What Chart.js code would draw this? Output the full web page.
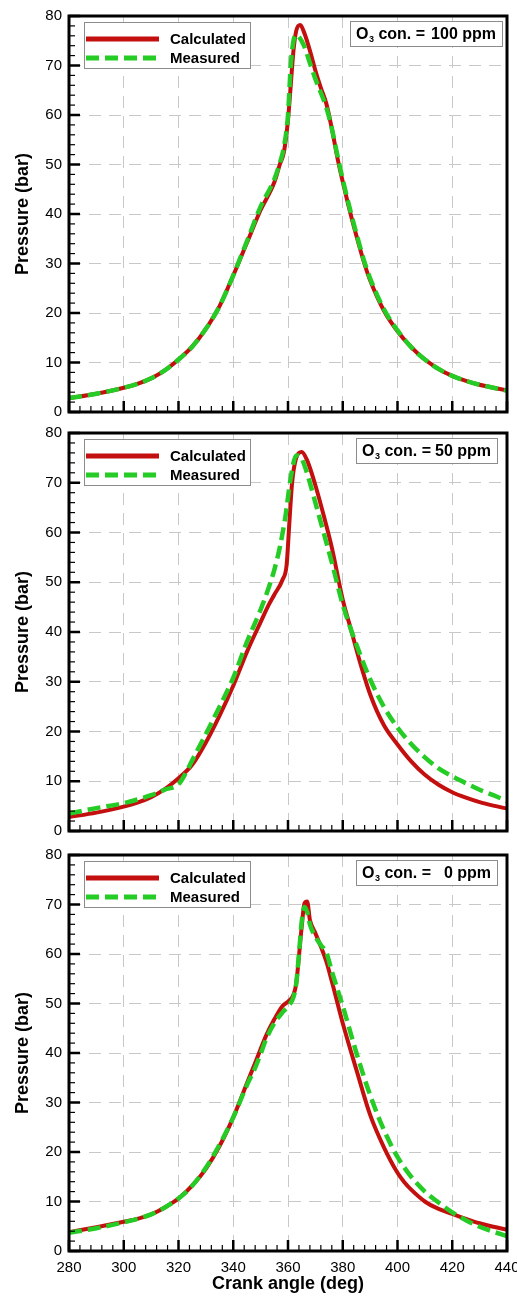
<!DOCTYPE html>
<html>
<head>
<meta charset="utf-8">
<script src="https://cdn.jsdelivr.net/npm/chart.js@4.4.1/dist/chart.umd.min.js"></script>
<style>
  html, body { margin: 0; padding: 0; background: #fff; }
  body { width: 517px; height: 1296px; position: relative; overflow: hidden; }
  .panel { position: absolute; left: 0; }
</style>
</head>
<body>
<div class="panel" style="top:0px"><canvas id="chart1" width="517" height="422"></canvas></div>
<div class="panel" style="top:417px"><canvas id="chart2" width="517" height="424"></canvas></div>
<div class="panel" style="top:839px"><canvas id="chart3" width="517" height="457"></canvas></div>
<script>
// O3 = 100 ppm
const calc100Angle = [280, 290, 300, 305, 310, 315, 320, 325, 330, 335, 340, 345, 350, 355, 357, 358.5, 360, 361, 362, 363, 364.5, 366, 368, 370, 372, 374, 376, 378, 380, 383, 386, 388, 390, 395, 400, 405, 410, 415, 420, 425, 430, 435, 440];
const calc100Pressure = [2.8, 3.7, 4.9, 5.7, 6.8, 8.4, 10.6, 13.2, 16.8, 21.4, 27.6, 34.2, 40.8, 46.4, 50, 52.5, 59, 66, 73, 77, 78.2, 76.5, 73, 69, 65.5, 62.3, 57.3, 51.5, 46.5, 39.7, 33.6, 29.8, 26.6, 20.5, 16.3, 13.1, 10.6, 8.7, 7.3, 6.3, 5.5, 4.9, 4.4];
const meas100Angle = [280, 290, 300, 305, 310, 315, 320, 325, 330, 335, 340, 345, 350, 355, 357, 358.5, 360, 361, 362, 363, 364, 366, 368, 370, 372, 374, 376, 378, 380, 383, 386, 388, 390, 395, 400, 405, 410, 415, 420, 425, 430, 435, 440];
const meas100Pressure = [2.8, 3.7, 4.9, 5.7, 6.8, 8.4, 10.6, 13.2, 16.8, 21.4, 27.6, 34.5, 41.5, 47, 50.3, 53.5, 60, 70, 75, 76.2, 75.8, 73.8, 70.5, 67.3, 64.5, 61.5, 57.3, 52, 47, 40.2, 34, 30.2, 27, 20.8, 16.5, 13.1, 10.6, 8.7, 7.3, 6.3, 5.5, 4.9, 4.3];

// O3 = 50 ppm
const calc50Angle = [280, 290, 300, 305, 310, 315, 320, 325, 330, 335, 340, 345, 350, 353, 355, 358, 359.5, 360.5, 361.5, 363, 365, 367, 370, 373, 376, 380, 383, 386, 390, 395, 400, 405, 410, 415, 420, 425, 430, 435, 440];
const calc50Pressure = [2.8, 3.7, 4.9, 5.7, 6.8, 8.4, 10.6, 13.3, 17.8, 23.2, 29.2, 36, 42, 45.5, 47.5, 50.5, 53.5, 62, 70, 75, 76.2, 74.5, 69.5, 63.5, 57, 46.5, 40.5, 34.5, 27.5, 21.3, 17.4, 14, 11.3, 9.3, 7.8, 6.7, 5.8, 5.1, 4.5];
const meas50Angle = [280, 290, 300, 310, 315, 320, 322, 325, 330, 335, 340, 345, 350, 353, 355, 357, 359, 361, 363, 364.5, 366, 368, 370, 373, 376, 380, 383, 386, 390, 395, 400, 405, 410, 415, 420, 425, 430, 435, 440];
const meas50Pressure = [3.5, 4.6, 5.6, 7.2, 8.3, 9.4, 11, 14.2, 19.5, 25, 30.8, 38, 44.5, 49, 52.5, 57, 63, 71, 75.5, 75.3, 73.5, 70, 66, 60, 54, 45.5, 40.5, 36, 30.5, 25, 20.8, 17.5, 14.8, 12.6, 11, 9.6, 8.3, 7.2, 6];

// O3 = 0 ppm
const calc0Angle = [280, 290, 300, 305, 310, 315, 320, 325, 330, 335, 340, 345, 348, 350, 352, 355, 358, 360, 362, 363, 364, 365, 366, 367, 368, 370, 372, 374, 376, 380, 385, 390, 395, 400, 402.5, 405, 410, 415, 420, 425, 430, 435, 440];
const calc0Pressure = [3.8, 4.8, 5.9, 6.5, 7.4, 8.8, 10.6, 13.2, 16.6, 21.2, 27, 33.9, 38, 40.8, 43.5, 46.8, 49.5, 50.4, 51.8, 54, 59.5, 65.5, 70.2, 70.6, 66.9, 64.2, 61.5, 58.5, 54.5, 46, 36.6, 27.5, 21, 15.8, 13.9, 12.4, 10, 8.5, 7.5, 6.5, 5.6, 4.9, 4.3];
const meas0Angle = [280, 290, 300, 305, 310, 315, 320, 325, 330, 335, 340, 345, 348, 350, 352, 355, 358, 360, 362, 363, 364, 365, 366, 367, 368, 370, 372, 374, 376, 380, 385, 390, 395, 400, 405, 410, 415, 420, 425, 430, 435, 440];
const meas0Pressure = [3.7, 4.6, 5.8, 6.5, 7.4, 8.8, 10.6, 13.2, 16.8, 21.5, 27, 33.5, 37, 39.8, 42.8, 46, 48.2, 49.4, 51.3, 54, 60, 66.5, 69.5, 68.5, 66, 63.5, 61.8, 60.3, 56.5, 49.5, 40, 31.5, 24.5, 19, 15, 12, 9.8, 7.8, 6.2, 4.9, 3.9, 3.0];

const fontFamily = '"Liberation Sans", Arial, sans-serif';
const calcColor = '#c40f0f';
const measColor = '#25cc25';
const gridColor = '#c8c8c8';

Chart.defaults.font.family = fontFamily;
Chart.defaults.color = '#000';

const toPoints = (xs, ys) => xs.map((x, i) => ({ x: x, y: ys[i] }));

// border box + inward major/minor ticks, like the original plot
const frameTicks = {
    id: 'frameTicks',
    afterDraw(chart) {
        const { ctx, chartArea: a, scales: { x, y } } = chart;
        ctx.save();
        ctx.strokeStyle = '#000';
        for (let v = x.min; v <= x.max; v += 4) {
            const major = (v - x.min) % 20 === 0;
            const px = x.getPixelForValue(v);
            ctx.lineWidth = major ? 2.5 : 1.2;
            ctx.beginPath();
            ctx.moveTo(px, a.bottom);
            ctx.lineTo(px, a.bottom - (major ? 11 : 6));
            ctx.stroke();
        }
        for (let v = y.min; v <= y.max; v += 2) {
            const major = v % 10 === 0;
            const py = y.getPixelForValue(v);
            ctx.lineWidth = major ? 2.5 : 1.2;
            ctx.beginPath();
            ctx.moveTo(a.left, py);
            ctx.lineTo(a.left + (major ? 11 : 6), py);
            ctx.stroke();
        }
        ctx.lineWidth = 3;
        ctx.strokeRect(a.left, a.top, a.right - a.left, a.bottom - a.top);
        ctx.restore();
    }
};

// legend box (top left) and ozone label box (top right)
const panelLabels = {
    id: 'panelLabels',
    afterDraw(chart, args, opts) {
        const { ctx, chartArea: a } = chart;
        ctx.save();
        const lx = a.left + 15, ly = a.top + 6;
        ctx.fillStyle = '#fff';
        ctx.fillRect(lx, ly, 166, 46);
        ctx.strokeStyle = '#8c8c8c';
        ctx.lineWidth = 1;
        ctx.strokeRect(lx + 0.5, ly + 0.5, 166, 46);
        chart.data.datasets.forEach((ds, i) => {
            const yy = ly + 17 + i * 19;
            ctx.strokeStyle = ds.borderColor;
            ctx.lineWidth = 5;
            ctx.setLineDash(ds.borderDash || []);
            ctx.beginPath();
            ctx.moveTo(lx + 2, yy);
            ctx.lineTo(lx + 75, yy);
            ctx.stroke();
            ctx.setLineDash([]);
            ctx.fillStyle = '#000';
            ctx.font = 'bold 15px ' + fontFamily;
            ctx.textBaseline = 'middle';
            ctx.textAlign = 'left';
            ctx.fillText(ds.label, lx + 86, yy + 1);
        });

        const bw = opts.boxWidth, bx = a.right - opts.rightGap - bw, by = a.top + 5;
        ctx.fillStyle = '#fff';
        ctx.fillRect(bx, by, bw, 25);
        ctx.strokeStyle = '#8c8c8c';
        ctx.lineWidth = 1;
        ctx.strokeRect(bx + 0.5, by + 0.5, bw, 25);
        ctx.fillStyle = '#000';
        ctx.textBaseline = 'alphabetic';
        ctx.textAlign = 'left';
        const base = by + 18;
        let tx = bx + 6;
        ctx.font = 'bold 16px ' + fontFamily;
        ctx.fillText('O', tx, base);
        tx += ctx.measureText('O').width + 0.5;
        ctx.font = 'bold 9px ' + fontFamily;
        ctx.fillText('3', tx, base + 3);
        tx += ctx.measureText('3').width;
        ctx.font = 'bold 16px ' + fontFamily;
        ctx.fillText(' con. =', tx, base);
        ctx.textAlign = 'right';
        ctx.fillText(opts.ppm + ' ppm', bx + bw - 6, base);
        ctx.restore();
    }
};

const makeChart = options => new Chart(document.getElementById(options.elementId), {
    type: 'line',
    data: {
        datasets: [
            {
                label: 'Calculated',
                data: toPoints(options.calcAngle, options.calcPressure),
                borderColor: calcColor,
                borderWidth: 4,
                order: 2
            },
            {
                label: 'Measured',
                data: toPoints(options.measAngle, options.measPressure),
                borderColor: measColor,
                borderWidth: 4.5,
                borderDash: [13, 6],
                order: 1
            }
        ]
    },
    options: {
        responsive: false,
        animation: false,
        layout: { padding: { top: 16, right: 10, left: 0, bottom: 0 } },
        elements: {
            point: { radius: 0 },
            line: { cubicInterpolationMode: 'monotone', fill: false }
        },
        plugins: {
            legend: { display: false },
            tooltip: { enabled: false },
            panelLabels: { ppm: options.ppm, boxWidth: options.boxWidth, rightGap: options.rightGap }
        },
        scales: {
            x: {
                type: 'linear',
                min: 280,
                max: 440,
                afterFit: s => { s.height = options.xHeight; s.paddingLeft = 0; s.paddingRight = 0; },
                grid: { color: gridColor, lineWidth: 1, drawTicks: false },
                border: { display: false, dash: [12, 8] },
                ticks: {
                    display: options.showX,
                    stepSize: 20,
                    padding: 8,
                    autoSkip: false,
                    maxRotation: 0,
                    font: { size: 15 }
                },
                title: {
                    display: options.showX,
                    text: 'Crank angle (deg)',
                    font: { size: 18, weight: 'bold' },
                    padding: { top: 0, bottom: 1 }
                }
            },
            y: {
                min: 0,
                max: 80,
                afterFit: s => { s.width = 69; s.paddingTop = 0; s.paddingBottom = 0; },
                grid: { color: gridColor, lineWidth: 1, drawTicks: false },
                border: { display: false, dash: [12, 8] },
                ticks: { stepSize: 10, padding: 7, font: { size: 15 } },
                title: {
                    display: true,
                    text: 'Pressure (bar)',
                    font: { size: 18, weight: 'bold' },
                    padding: { top: 12, bottom: 0 }
                }
            }
        }
    },
    plugins: [frameTicks, panelLabels]
});

makeChart({
    elementId: 'chart1',
    calcAngle: calc100Angle, calcPressure: calc100Pressure,
    measAngle: meas100Angle, measPressure: meas100Pressure,
    ppm: '100', boxWidth: 152, rightGap: 5,
    showX: false, xHeight: 10
});

makeChart({
    elementId: 'chart2',
    calcAngle: calc50Angle, calcPressure: calc50Pressure,
    measAngle: meas50Angle, measPressure: meas50Pressure,
    ppm: '50', boxWidth: 141, rightGap: 10,
    showX: false, xHeight: 10
});

makeChart({
    elementId: 'chart3',
    calcAngle: calc0Angle, calcPressure: calc0Pressure,
    measAngle: meas0Angle, measPressure: meas0Pressure,
    ppm: '0', boxWidth: 141, rightGap: 10,
    showX: true, xHeight: 45
});
</script>
</body>
</html>
